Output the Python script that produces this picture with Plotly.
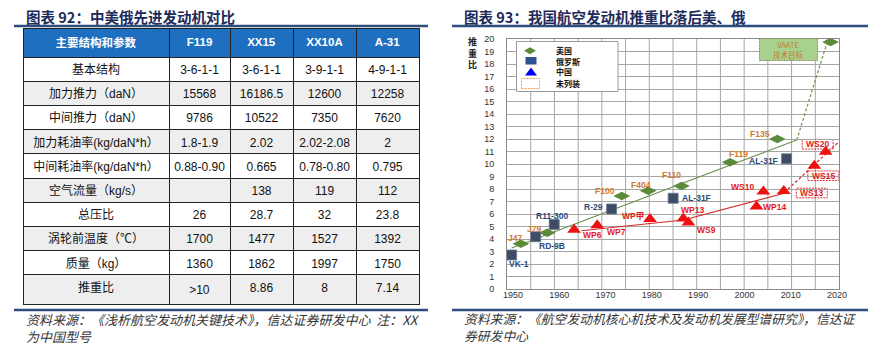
import plotly.graph_objects as go

W, H = 882, 352
def px(x): return x / W
def py(y): return 1 - y / H

# ---------------- table data ----------------
table_header = ["主要结构和参数", "F119", "XX15", "XX10A", "A-31"]
params = ["基本结构", "加力推力（daN）", "中间推力（daN）", "加力耗油率(kg/daN*h）",
          "中间耗油率(kg/daN*h）", "空气流量（kg/s）", "总压比", "涡轮前温度（℃）",
          "质量（kg）", "推重比"]
f119 = ["3-6-1-1", "15568", "9786", "1.8-1.9", "0.88-0.90", "", "26", "1700", "1360", ">10"]
xx15 = ["3-6-1-1", "16186.5", "10522", "2.02", "0.665", "138", "28.7", "1477", "1862", "8.86"]
xx10a = ["3-9-1-1", "12600", "7350", "2.02-2.08", "0.78-0.80", "119", "32", "1527", "1997", "8"]
a31 = ["4-9-1-1", "12258", "7620", "2", "0.795", "112", "23.8", "1392", "1750", "7.14"]

# ---------------- chart data ----------------
us_names = ["J47", "J79", "F100", "F404", "F110", "F119", "F135", "VAATE"]
us_year = [1951.7, 1957.4, 1973.5, 1979.2, 1986.4, 1996.9, 2007.1, 2018.6]
us_tw = [3.62, 4.50, 7.44, 7.86, 8.24, 10.14, 12.0, 19.76]

ru_names = ["VK-1", "RD-9B", "R11-300", "R-29", "AL-31F", "AL-31F"]
ru_year = [1949.7, 1954.9, 1958.9, 1971.3, 1984.6, 2009.1]
ru_tw = [2.72, 4.18, 5.17, 6.40, 7.26, 10.42]

cn_names = ["WP6", "WP7", "WP甲", "WP13", "WS9", "WP14", "WS10", "WS13", "WS15", "WS20"]
cn_year = [1963.2, 1968.2, 1979.6, 1986.8, 1987.9, 2002.6, 2004.1, 2008.5, 2015.1, 2017.55]
cn_tw = [4.74, 5.10, 5.60, 5.65, 5.33, 6.60, 7.80, 7.84, 9.86, 10.98]
cn_boxed = ["WS13", "WS15", "WS20"]

us_trend_year = [1949.7, 2011.3]
us_trend_tw = [3.28, 11.92]
us_future_year = [2011.3, 2017.8]
us_future_tw = [11.92, 19.65]
cn_trend_year = [1964.8, 1986.8, 2008.6]
cn_trend_tw = [4.66, 5.52, 7.66]
cn_future_year = [2008.6, 2020.4]
cn_future_tw = [7.70, 11.78]

x_ticks = [1950, 1960, 1970, 1980, 1990, 2000, 2010, 2020]

# label offsets (pixels) - styling
us_off = [(-6, 6), (-13, 4), (-17, 5), (-7, 6), (-10, 11), (8, 8), (-17, 5), None]
ru_off = [(7, -9), (16, -9), (-2, 8), (-18, 2), (23, 0), (-23, -2)]
cn_off = [(18, -5), (19, -7), (-17, 3), (9, 8), (18, -8), (18, 0), (-21, 5), (28, -2), (9, -10), (-8, 7.5)]

FONT = "Liberation Sans, Arial, Noto Sans CJK SC, sans-serif"
CJK = "Noto Sans CJK SC, Liberation Sans, sans-serif"

fig = go.Figure()

# table
n = len(params)
row_fill = ["#ffffff" if i % 2 == 0 else "#eeeeee" for i in range(n)]
fig.add_trace(go.Table(
    domain=dict(x=[px(23), px(419)], y=[0, py(28)]),
    columnwidth=[146, 61, 63, 63, 63],
    header=dict(values=["<b>%s</b>" % h for h in table_header],
                fill_color="#1f6fc0", line=dict(color="#222222", width=1),
                font=dict(color="white", size=11.5, family=FONT), align="center", height=18),
    cells=dict(values=[params, f119, xx15, xx10a, a31],
               fill_color=[row_fill] * 5, line=dict(color="#222222", width=1),
               font=dict(color="#111111", size=12, family=FONT), align="center", height=24.2),
))

US_C, RU_C, CN_C = "#5b8a3a", "#3e4c66", "#ee1111"

fig.add_trace(go.Scatter(x=us_trend_year, y=us_trend_tw, mode="lines",
                         line=dict(color="#6f9450", width=1.2), showlegend=False, hoverinfo="skip"))
fig.add_trace(go.Scatter(x=us_future_year, y=us_future_tw, mode="lines",
                         line=dict(color="#6f9450", width=1.2, dash="3px,2px"), showlegend=False, hoverinfo="skip"))
fig.add_trace(go.Scatter(x=cn_trend_year, y=cn_trend_tw, mode="lines",
                         line=dict(color="#d42a2a", width=1.2), showlegend=False, hoverinfo="skip"))
fig.add_trace(go.Scatter(x=cn_future_year, y=cn_future_tw, mode="lines",
                         line=dict(color="#d42a2a", width=1.2, dash="3px,2px"), showlegend=False, hoverinfo="skip"))

fig.add_trace(go.Scatter(x=us_year, y=us_tw, mode="markers", name="美国",
                         marker=dict(symbol="diamond-wide", size=12, color=US_C), showlegend=False))
fig.add_trace(go.Scatter(x=ru_year, y=ru_tw, mode="markers", name="俄罗斯",
                         marker=dict(symbol="square", size=10, color=RU_C,
                                     line=dict(color="#6a7890", width=0.8)), showlegend=False))
fig.add_trace(go.Scatter(x=cn_year, y=cn_tw, mode="markers", name="中国",
                         marker=dict(symbol="triangle-up", size=12, color=CN_C), showlegend=False))

ann = []
shapes = []
def label(x, y, t, off, color):
    ann.append(dict(x=x, y=y, xref="x", yref="y", text="<b>%s</b>" % t, showarrow=False,
                    xanchor="center", yanchor="middle",
                    xshift=off[0], yshift=off[1], font=dict(size=8.5, color=color, family=FONT)))

for x, y, t, o in zip(us_year, us_tw, us_names, us_off):
    if o is not None:
        label(x, y, t, o, "#cf7a2e")
for x, y, t, o in zip(ru_year, ru_tw, ru_names, ru_off):
    label(x, y, t, o, "#2b4a78")
for x, y, t, o in zip(cn_year, cn_tw, cn_names, cn_off):
    label(x, y, t, o, "#e41a1a")
    if t in cn_boxed:
        shapes.append(dict(type="rect", xref="x", yref="y", xsizemode="pixel", ysizemode="pixel",
                           xanchor=x, yanchor=y, x0=o[0] - 15.5, x1=o[0] + 15.5, y0=o[1] - 4.8, y1=o[1] + 4.8,
                           line=dict(color="#e03030", width=1, dash="2px,1px"), layer="below"))

def pann(x, y, text, size, color, family=CJK, xanchor="center", align="center"):
    ann.append(dict(x=px(x), y=py(y), xref="paper", yref="paper", xanchor=xanchor, yanchor="middle",
                    align=align, showarrow=False, text=text, font=dict(size=size, color=color, family=family)))

# vertical grid lines (image-style 14 columns)
L, R, T, B = 507, 839, 39, 289
for k in range(1, 14):
    xx = L + k * (R - L) / 14
    shapes.append(dict(type="line", xref="paper", yref="paper", x0=px(xx), x1=px(xx), y0=py(T), y1=py(B),
                       line=dict(color="#a6a6a6", width=1), layer="below"))

# VAATE box
shapes.append(dict(type="rect", xref="paper", yref="paper", x0=px(759.5), x1=px(817.5), y0=py(60.5), y1=py(38.5),
                   fillcolor="#a9d18e", line=dict(color="#8a8a6a", width=1, dash="2px,1px"), layer="above"))
pann(788.5, 49.5, "VAATE<br>技术目标", 7.5, "#c47a2a")

# custom legend
shapes.append(dict(type="rect", xref="paper", yref="paper", x0=px(516.5), x1=px(618), y0=py(91.5), y1=py(41.5),
                   fillcolor="white", line=dict(color="#9a9a9a", width=1), layer="above"))
def path(pts):
    return "M " + " L ".join("%f,%f" % (px(a), py(b)) for a, b in pts) + " Z"
shapes.append(dict(type="path", xref="paper", yref="paper",
                   path=path([(524, 50.7), (530, 47.2), (536, 50.7), (530, 54.2)]),
                   fillcolor=US_C, line=dict(width=0), layer="above"))
shapes.append(dict(type="rect", xref="paper", yref="paper", x0=px(525.5), x1=px(536.5), y0=py(64.5), y1=py(57),
                   fillcolor="#2f5190", line=dict(width=0), layer="above"))
shapes.append(dict(type="path", xref="paper", yref="paper",
                   path=path([(525, 75.5), (531, 67.5), (537, 75.5)]),
                   fillcolor="#0000ff", line=dict(width=0), layer="above"))
shapes.append(dict(type="rect", xref="paper", yref="paper", x0=px(521.5), x1=px(539.5), y0=py(88.5), y1=py(78.5),
                   fillcolor="white", line=dict(color="#f0a060", width=1, dash="2px,1px"), layer="above"))
for t, yy in zip(["美国", "俄罗斯", "中国", "未列装"], [50.7, 61, 71.7, 83]):
    pann(553.5, yy, "<b>%s</b>" % t, 8, "#111", xanchor="left")

# y-axis title (stacked characters)
pann(473, 52.7, "<b>推<br>重<br>比</b>", 9, "#222")

# titles & underlines & sources
pann(24, 16.5, "<b>图表 92：中美俄先进发动机对比</b>", 14.5, "#1c2b5a", xanchor="left")
pann(462, 16.5, "<b>图表 93：我国航空发动机推重比落后美、俄</b>", 14.5, "#1c2b5a", xanchor="left")
for x0, x1 in [(14, 428), (452, 868)]:
    for yy in [26, 310]:
        shapes.append(dict(type="line", xref="paper", yref="paper", x0=px(x0), x1=px(x1), y0=py(yy), y1=py(yy),
                           line=dict(color="#2f4d7c", width=2.5)))
pann(24, 327.5, "<i>资料来源：《浅析航空发动机关键技术》，信达证券研发中心  注：XX<br>为中国型号</i>",
     13, "#333", xanchor="left", align="left")
pann(462, 326.5, "<i>资料来源：《航空发动机核心机技术及发动机发展型谱研究》，信达证<br>券研发中心</i>",
     12.8, "#333", xanchor="left", align="left")

x_left = 1950 - 6 / 4.6286
x_right = 2020 + 2 / 4.6286
fig.update_layout(
    width=W, height=H, autosize=False, margin=dict(l=0, r=0, t=0, b=0),
    paper_bgcolor="white", plot_bgcolor="white", showlegend=False,
    xaxis=dict(domain=[px(L), px(R)], range=[x_left, x_right], tickvals=x_ticks, showgrid=False,
               showline=True, mirror=True, linecolor="#8a8a8a", linewidth=1, zeroline=False, automargin=False,
               ticks="", tickfont=dict(size=9, color="#333", family=FONT), ticklabelstandoff=-3),
    yaxis=dict(domain=[py(B), py(T)], range=[0, 20], dtick=1, showgrid=True, gridcolor="#a6a6a6", gridwidth=1,
               showline=True, mirror=True, linecolor="#8a8a8a", linewidth=1, zeroline=False, automargin=False,
               ticks="", tickfont=dict(size=9, color="#333", family=FONT), ticklabelstandoff=10),
    annotations=ann, shapes=shapes,
)
fig.write_html("out.html")
